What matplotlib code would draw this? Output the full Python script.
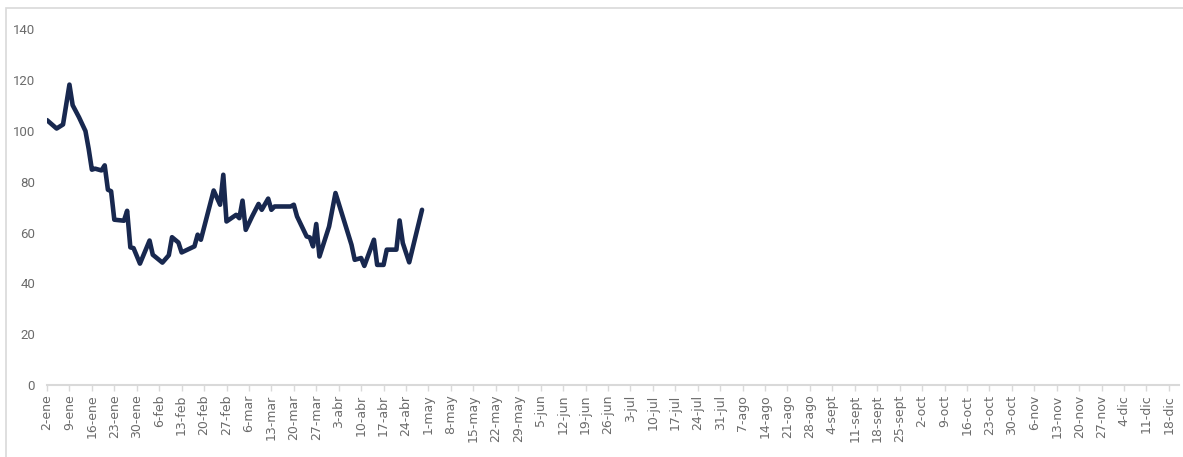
import numpy as np
import matplotlib
matplotlib.use('Agg')
import matplotlib.pyplot as plt
from matplotlib.patches import Rectangle
from datetime import date, timedelta

# serie diaria (vertices de la linea), dias desde el 2-ene
start = date(2023, 1, 2)
dias = [0, 3, 5, 7, 8, 10, 12, 13, 14, 15, 17, 18, 19, 20, 21, 24, 25, 26, 27, 29,
        32, 33, 36, 38, 39, 41, 42, 46, 47, 48, 52, 54, 55, 56, 59, 60, 61, 62, 64,
        66, 67, 69, 70, 71, 76, 77, 78, 81, 82, 83, 84, 85, 88, 90, 95, 96, 98, 99,
        102, 103, 105, 106, 109, 110, 111, 113, 117]
valores = [104.3, 101.0, 102.6, 118.3, 110.2, 105.4, 100.0, 93.0, 84.8, 85.2, 84.5,
           86.5, 76.9, 76.3, 65.1, 64.7, 68.6, 54.2, 53.9, 47.8,
           56.9, 51.3, 48.2, 51.1, 58.2, 56.1, 52.2, 54.6, 59.2, 57.2, 76.6, 71.0,
           82.8, 64.4, 67.0, 65.7, 72.6, 61.1, 66.4,
           71.3, 69.0, 73.4, 69.0, 70.3, 70.3, 71.0, 66.4, 58.5, 58.1, 54.6, 63.4,
           50.6, 62.4, 75.6, 55.2, 49.3, 50.0, 46.9,
           57.2, 47.3, 47.3, 53.3, 53.3, 64.8, 55.9, 48.3, 69.0]

meses = ['ene', 'feb', 'mar', 'abr', 'may', 'jun', 'jul', 'ago', 'sept', 'oct',
         'nov', 'dic']
yticks = [0, 20, 40, 60, 80, 100, 120, 140]

fechas = [start + timedelta(days=d) for d in dias]
ticks = [start + timedelta(days=7 * k) for k in range(51)]
tick_labels = ['{}-{}'.format(t.day, meses[t.month - 1]) for t in ticks]

gris = '#d9d9d9'
texto = '#6b6b6b'

fig = plt.figure(figsize=(11.83, 4.57), dpi=100)
fig.patches.append(Rectangle((6 / 1183, -0.1), 1.2, 1.1 - 8 / 457,
                             transform=fig.transFigure, fill=False,
                             edgecolor=gris, lw=1.2))
ax = fig.add_axes([47 / 1183, 72 / 457, (1178.5 - 47) / 1183, (385 - 29.5) / 457])

ax.plot(fechas, valores, color='#18284f', lw=3.3, solid_joinstyle='round',
        solid_capstyle='round')

ax.set_xlim(start, start + timedelta(days=353.5))
ax.set_ylim(0, 140)
ax.set_yticks(yticks)
ax.set_xticks(ticks)
ax.set_xticklabels(tick_labels, rotation=90, fontsize=9, color=texto,
                   va='top', ha='center')
ax.tick_params(axis='x', length=4, width=1, color=gris, pad=3)
ax.tick_params(axis='y', length=0, pad=8.5, labelsize=9.5, labelcolor=texto)
for lab in ax.get_yticklabels():
    lab.set_family(['Roboto', 'DejaVu Sans'])

for s in ['top', 'right', 'left']:
    ax.spines[s].set_visible(False)
ax.spines['bottom'].set_color(gris)
ax.spines['bottom'].set_linewidth(1.5)

fig.savefig('out.png', dpi=100)
